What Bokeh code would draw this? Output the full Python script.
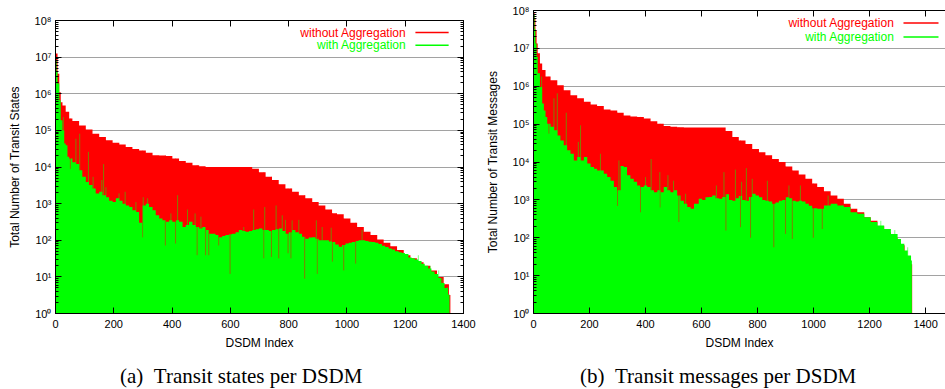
import numpy as np
from bokeh.plotting import figure
from bokeh.layouts import row, column
from bokeh.models import (LogAxis, LinearAxis, FixedTicker, CustomJSTickFormatter,
                          Label, Range1d, Div)
from bokeh.embed import file_html
from bokeh.resources import INLINE

# ---------------- data: (a) transit states per DSDM ----------------
a_red_idx = [0, 7, 13, 18, 24, 35, 47, 58, 81, 104, 127, 150, 173, 196, 219, 241, 264, 287, 310, 333,
             356, 379, 401, 424, 447, 470, 493, 515, 539, 562, 585, 608, 631, 654, 675, 698, 721, 743,
             766, 789, 812, 835, 857, 881, 903, 926, 949, 966, 989, 1012, 1035, 1058, 1081, 1104, 1126,
             1149, 1172, 1195, 1218, 1240, 1263, 1286, 1309, 1332, 1350]
a_red_val = [1.26e7, 3.5e6, 1.1e6, 5.9e5, 4.8e5, 3.2e5, 2.1e5, 1.8e5, 1.35e5, 1.05e5, 8.1e4, 6.6e4, 5.4e4,
             4.6e4, 4.1e4, 3.5e4, 3.1e4, 2.8e4, 2.45e4, 2.1e4, 2.05e4, 2.0e4, 1.7e4, 1.45e4, 1.3e4, 1.12e4,
             1.05e4, 1.0e4, 1.0e4, 1.0e4, 1.0e4, 1.0e4, 1.0e4, 1.0e4, 8.9e3, 7.2e3, 5.4e3, 4.4e3, 3.4e3,
             2.6e3, 2.1e3, 1.7e3, 1.4e3, 1.1e3, 890, 690, 550, 510, 390, 300, 230, 170, 140, 105, 85, 69,
             54, 39, 32, 25, 20, 15, 10, 6.3, 3.2]
a_red_end = 1355

a_green_idx = [0, 4, 7, 13, 18, 24, 30, 35, 41, 47, 58, 70, 81, 92, 104, 115, 127, 138, 150, 161,
               173, 184, 196, 207, 219, 230, 241, 253, 264, 276, 287, 298, 310, 321, 333, 344, 356, 367,
               379, 390, 401, 413, 424, 436, 447, 458, 470, 481, 493, 504, 516, 527, 538, 549, 560, 572,
               583, 595, 606, 618, 629, 641, 652, 664, 675, 687, 698, 710, 721, 732, 743, 755, 766, 778,
               789, 800, 812, 823, 835, 846, 857, 869, 881, 892, 903, 915, 926, 938, 949, 960, 972, 983,
               995, 1006, 1017, 1029, 1040, 1051, 1063, 1074, 1085, 1097, 1108, 1120, 1131, 1143, 1154,
               1165, 1177, 1188, 1199, 1211, 1222, 1233, 1245, 1256, 1267, 1279, 1290, 1301, 1313, 1324,
               1335, 1347]
a_green_val = [7.9e6, 4.0e6, 1.9e6, 6.6e5, 1.9e5, 1.0e5, 4.4e4, 3.9e4, 1.9e4, 1.7e4, 1.35e4, 1.2e4, 8.1e3,
               5.4e3, 3.9e3, 3.2e3, 2.6e3, 1.9e3, 2.1e3, 1.7e3, 1.5e3, 1.2e3, 1.1e3, 1.4e3, 1.2e3, 1.0e3,
               890, 810, 660, 590, 300, 890, 1.0e3, 810, 660, 480, 390, 350, 320, 350, 320, 350, 320, 230,
               260, 320, 260, 230, 210, 230, 190, 150, 150, 140, 120, 130, 140, 145, 150, 165, 190, 180,
               170, 180, 190, 200, 210, 190, 190, 180, 190, 200, 210, 180, 150, 165, 190, 165, 150, 125,
               110, 118, 120, 110, 100, 100, 100, 93, 89, 76, 66, 74, 81, 85, 89, 95, 100, 100, 95, 91,
               89, 85, 79, 71, 65, 60, 56, 50, 47, 45, 42, 34, 32, 30, 27, 23, 20, 17, 14, 12, 9.3, 6.8,
               5.0, 3.3]
a_green_end = 1352

a_spike_idx = [27, 70, 83, 113, 129, 159, 165, 173, 218, 239, 276, 301, 316, 396, 419, 453, 479, 499,
               646, 680, 718, 757, 778, 789, 812, 835, 895, 915, 946, 1052, 1245, 1286, 1315, 1327, 1344]
a_spike_val = [2.3e5, 5.9e4, 8.1e4, 2.6e4, 5.4e3, 4.4e3, 1.2e4, 2.8e3, 1.9e3, 2.1e3, 1.1e3, 1.5e3, 1.4e3,
               540, 1.7e3, 690, 540, 440, 230, 690, 810, 890, 480, 360, 350, 360, 350, 230, 220, 190,
               39, 20, 15, 9.1, 5.4]

a_dip_idx = [51, 299, 377, 412, 486, 515, 526, 560, 599, 715, 741, 766, 798, 808, 855, 898, 950, 989, 1030]
a_dip_val = [8.9e3, 120, 72, 81, 39, 39, 39, 72, 12, 32, 35, 32, 44, 32, 8.9, 12, 26, 15, 23]

# ---------------- data: (b) transit messages per DSDM ----------------
b_red_idx = [0, 4, 7, 11, 15, 23, 31, 43, 61, 85, 108, 132, 156, 180, 204, 227, 251, 275, 299, 322,
             346, 370, 394, 418, 442, 465, 489, 513, 537, 561, 585, 609, 633, 657, 686, 710, 733, 757,
             781, 805, 828, 852, 876, 900, 924, 947, 971, 995, 1013, 1037, 1061, 1085, 1108, 1132, 1156,
             1181, 1204, 1228, 1252, 1276, 1300, 1325, 1345]
b_red_val = [9.1e7, 6.3e7, 3.0e7, 1.35e7, 7.4e6, 4.0e6, 2.7e6, 1.8e6, 1.45e6, 1.07e6, 7.9e5, 5.8e5, 4.8e5,
             3.9e5, 3.3e5, 3.0e5, 2.45e5, 2.3e5, 2.0e5, 1.7e5, 1.6e5, 1.55e5, 1.4e5, 1.2e5, 1.02e5, 8.9e4,
             8.5e4, 8.3e4, 8.1e4, 8.1e4, 8.1e4, 8.1e4, 8.1e4, 8.1e4, 6.6e4, 4.6e4, 3.7e4, 3.0e4, 2.2e4,
             1.8e4, 1.5e4, 1.2e4, 1.0e4, 7.6e3, 6.0e3, 4.7e3, 3.6e3, 2.7e3, 2.2e3, 1.7e3, 1.3e3, 1.07e3,
             790, 580, 470, 350, 280, 200, 140, 100, 63, 32, 20]
b_red_end = 1352

b_green_idx = [0, 4, 7, 11, 15, 23, 31, 37, 43, 49, 61, 73, 85, 96, 108, 120, 132, 144, 156, 168, 180,
               192, 204, 216, 227, 239, 251, 263, 275, 287, 299, 311, 322, 334, 346, 358, 370, 382, 394,
               406, 418, 430, 442, 454, 465, 477, 489, 501, 513, 525, 537, 549, 561, 573, 590, 602, 614,
               626, 638, 650, 662, 674, 686, 698, 710, 722, 733, 745, 757, 769, 781, 793, 805, 817, 828,
               840, 852, 864, 876, 888, 900, 912, 924, 936, 947, 959, 971, 983, 995, 1013, 1037, 1061,
               1085, 1108, 1132, 1156, 1181, 1204, 1228, 1252, 1276, 1300, 1312, 1324, 1336, 1348]
b_green_val = [7.9e7, 3.2e7, 1.35e7, 6.0e6, 2.2e6, 9.5e5, 3.5e5, 2.3e5, 1.55e5, 1.02e5, 8.5e4, 6.9e4, 5.0e4,
               3.7e4, 2.75e4, 2.05e4, 1.65e4, 1.1e4, 1.35e4, 1.1e4, 1.35e4, 9.1e3, 7.4e3, 6.6e3, 6.0e3,
               6.0e3, 4.9e3, 4.0e3, 3.2e3, 2.2e3, 1.8e3, 7.9e3, 7.4e3, 4.5e3, 3.6e3, 3.0e3, 2.4e3, 2.2e3,
               2.4e3, 2.2e3, 1.8e3, 1.6e3, 1.8e3, 1.6e3, 2.2e3, 1.8e3, 1.6e3, 1.8e3, 1.3e3, 950, 790, 650,
               580, 790, 1.07e3, 1.0e3, 1.17e3, 1.2e3, 1.3e3, 1.1e3, 1.07e3, 1.2e3, 1.4e3, 1.0e3, 950,
               1.1e3, 1.26e3, 1.0e3, 950, 1.2e3, 1.45e3, 1.3e3, 1.17e3, 1.0e3, 950, 900, 790, 850, 950,
               1.0e3, 1.17e3, 1.1e3, 950, 900, 950, 900, 790, 700, 600, 580, 710, 790, 710, 650, 470, 430,
               350, 260, 210, 170, 126, 93, 69, 46, 34, 25]
b_green_end = 1351

b_spike_idx = [29, 73, 85, 117, 160, 168, 239, 305, 400, 420, 451, 480, 500, 543, 653, 680, 721, 743,
               760, 781, 835, 912, 953, 1052, 1240, 1290, 1336]
b_spike_val = [1.8e6, 4.8e5, 6.5e5, 2.0e5, 3.4e4, 9.3e4, 1.65e4, 1.1e4, 4.0e3, 1.2e4, 5.4e3, 4.5e3, 3.2e3,
               1.45e3, 2.4e3, 5.4e3, 6.3e3, 3.0e3, 6.9e3, 3.6e3, 3.2e3, 2.4e3, 2.4e3, 1.3e3, 280, 160, 56]

b_dip_idx = [55, 300, 382, 452, 519, 687, 739, 775, 858, 900, 924, 999, 1031]
b_dip_val = [5.6e4, 690, 470, 630, 260, 155, 190, 100, 56, 126, 93, 100, 170]

# ---------------- axis ticks ----------------
x_ticks = [0, 200, 400, 600, 800, 1000, 1200, 1400]
y_ticks = [1, 10, 100, 1e3, 1e4, 1e5, 1e6, 1e7, 1e8]
y_minor = [m * t for t in y_ticks[:-1] for m in range(2, 10)]

RED = "#ff0000"
GREEN = "#00ff00"
FONT = "Liberation Sans"
H = 364

SUP_JS = """
const sup = ["\u2070","\u00b9","\u00b2","\u00b3","\u2074","\u2075","\u2076","\u2077","\u2078","\u2079"];
return "10" + sup[Math.round(Math.log10(tick))];
"""


def make_plot(red_idx, red_val, red_end, green_idx, green_val, green_end,
              spike_idx, spike_val, dip_idx, dip_val, ylabel,
              width, x_end, bl, br, bt, bb, leg_x, leg_y, leg_line, full_frame):
    p = figure(width=width, height=H, x_range=Range1d(0, x_end), y_range=Range1d(1, 1e8),
               y_axis_type="log", output_backend="svg", toolbar_location=None,
               min_border_left=bl, min_border_right=br, min_border_top=bt, min_border_bottom=bb)
    p.frame_align = False
    p.background_fill_color = "white"
    p.border_fill_color = "white"
    p.outline_line_color = "black" if full_frame else None

    # series drawn as impulse masses
    xs = list(red_idx) + [red_end]
    ys = list(red_val) + [red_val[-1]]
    p.varea_step(x=xs, y1=[1] * len(xs), y2=ys, step_mode="after", fill_color=RED)
    xs = list(green_idx) + [green_end]
    ys = list(green_val) + [green_val[-1]]
    p.varea_step(x=xs, y1=[1] * len(xs), y2=ys, step_mode="after", fill_color=GREEN)

    # gaps in the green series let the red impulses show through
    ri = np.searchsorted(np.array(red_idx), np.array(dip_idx), side="right") - 1
    dip_top = [float(v) for v in np.array(red_val)[ri]]
    p.segment(x0=dip_idx, y0=dip_val, x1=dip_idx, y1=dip_top,
              line_color=RED, line_alpha=0.5, line_width=1)
    # isolated tall green impulses
    p.segment(x0=spike_idx, y0=[1] * len(spike_idx), x1=spike_idx, y1=spike_val,
              line_color=GREEN, line_alpha=0.5, line_width=1)

    xa = p.xaxis[0]
    xa.ticker = FixedTicker(ticks=x_ticks, minor_ticks=[])
    xa.axis_label = "DSDM Index"
    xa.major_label_standoff = 6
    xa.axis_label_standoff = 5
    ya = p.yaxis[0]
    ya.ticker = FixedTicker(ticks=y_ticks, minor_ticks=y_minor)
    ya.formatter = CustomJSTickFormatter(code=SUP_JS)
    ya.axis_label = ylabel
    ya.major_label_standoff = 4
    ya.axis_label_standoff = 10
    for ax in (xa, ya):
        ax.major_label_text_font = FONT
        ax.major_label_text_font_size = "11px"
        ax.major_label_text_color = "black"
        ax.axis_label_text_font = FONT
        ax.axis_label_text_font_size = "12px"
        ax.axis_label_text_font_style = "normal"
        ax.axis_label_text_color = "black"
        ax.major_tick_in = 6
        ax.major_tick_out = 0
        ax.minor_tick_in = 3
        ax.minor_tick_out = 0
        ax.axis_line_color = "black"
        ax.major_tick_line_color = "black"
        ax.minor_tick_line_color = "black"
    xa.minor_tick_line_color = None

    top = LinearAxis(ticker=FixedTicker(ticks=x_ticks, minor_ticks=[]),
                     major_label_text_font_size="1px", major_label_text_alpha=0,
                     major_label_standoff=0,
                     major_tick_in=6, major_tick_out=0, minor_tick_line_color=None,
                     axis_line_color="black")
    p.add_layout(top, "above")
    if full_frame:
        right = LogAxis(ticker=FixedTicker(ticks=y_ticks, minor_ticks=y_minor),
                        major_label_text_font_size="1px", major_label_text_alpha=0,
                        major_label_standoff=0,
                        major_tick_in=6, major_tick_out=0, minor_tick_in=3, minor_tick_out=0,
                        axis_line_color="black")
        p.add_layout(right, "right")

    p.ygrid.ticker = FixedTicker(ticks=y_ticks, minor_ticks=[])
    p.ygrid.grid_line_color = "#444444"
    p.ygrid.grid_line_dash = "1 1"
    p.ygrid.grid_line_width = 1
    p.xgrid.visible = False

    # legend (text right-aligned, key line on the right, gnuplot style)
    for text, color, yy in (("without Aggregation", RED, leg_y[0]), ("with Aggregation", GREEN, leg_y[1])):
        p.add_layout(Label(x=leg_x, y=yy, text=text, text_align="right", text_baseline="middle",
                           text_color=color, text_font=FONT, text_font_size="12px"))
        p.segment(x0=[leg_line[0]], y0=[yy], x1=[leg_line[1]], y1=[yy], line_color=color, line_width=1.5)
    return p


pa = make_plot(a_red_idx, a_red_val, a_red_end, a_green_idx, a_green_val, a_green_end,
               a_spike_idx, a_spike_val, a_dip_idx, a_dip_val,
               "Total Number of Transit States",
               width=478, x_end=1400, bl=55, br=15, bt=20, bb=51,
               leg_x=1204, leg_y=(4.7e7, 2.1e7), leg_line=(1235, 1349), full_frame=True)
pb = make_plot(b_red_idx, b_red_val, b_red_end, b_green_idx, b_green_val, b_green_end,
               b_spike_idx, b_spike_val, b_dip_idx, b_dip_val,
               "Total Number of Transit Messages",
               width=467, x_end=1471, bl=55, br=0, bt=10, bb=51,
               leg_x=1289, leg_y=(4.7e7, 2.0e7), leg_line=(1321, 1446), full_frame=False)

CAP_STYLE = {"font-family": "'Liberation Serif', serif", "font-size": "21px", "line-height": "24px",
             "color": "black", "text-align": "left", "white-space": "nowrap"}
cap_a = Div(text="(a)&nbsp;&nbsp;Transit states per DSDM", width=478, height=25, margin=(0, 0, 0, 0),
            styles=dict(CAP_STYLE, **{"padding-left": "120px"}))
cap_b = Div(text="(b)&nbsp;&nbsp;Transit messages per DSDM", width=467, height=25, margin=(0, 0, 0, 0),
            styles=dict(CAP_STYLE, **{"padding-left": "102px"}))

layout = column(row(pa, pb), row(cap_a, cap_b))
open("out.html", "w").write(file_html(layout, INLINE, "Transit states and messages per DSDM"))
